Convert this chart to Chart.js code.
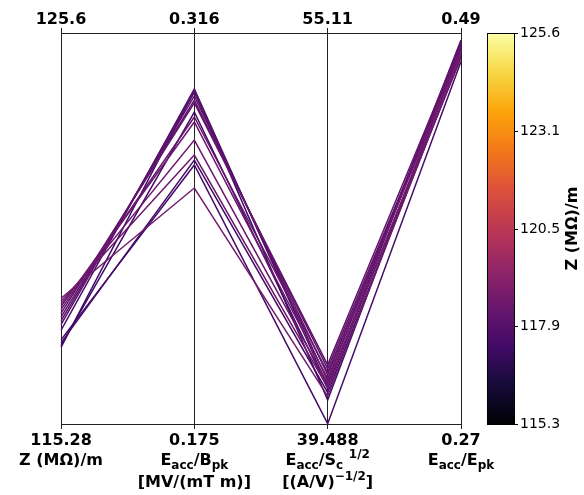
<!DOCTYPE html>
<html>
<head>
<meta charset="utf-8">
<script src="https://cdn.jsdelivr.net/npm/chart.js@4/dist/chart.umd.min.js"></script>
<style>
  html, body { margin: 0; padding: 0; background: #fff; }
  #wrap { width: 584px; height: 495px; }
</style>
</head>
<body>
<div id="wrap"><canvas id="myChart" width="584" height="495"></canvas></div>
<script>
// axis ranges (bottom / top of each vertical axis)
const axisMin = [115.28, 0.175, 39.488, 0.27];
const axisMax = [125.6, 0.316, 55.11, 0.49];
const axisMinLabels = ["115.28", "0.175", "39.488", "0.27"];
const axisMaxLabels = ["125.6", "0.316", "55.11", "0.49"];

// one entry per design
const zValues    = [118.60, 118.52, 118.45, 118.38, 118.30, 118.20, 118.10, 118.00, 117.90, 117.75, 117.50, 117.42, 117.35, 117.30];
const eaccBpk    = [0.2601, 0.2720, 0.2774, 0.2839, 0.2857, 0.2908, 0.2918, 0.2933, 0.2947, 0.2958, 0.2684, 0.2702, 0.2875, 0.2950];
const eaccSc     = [40.60, 40.95, 41.10, 41.30, 41.55, 41.85, 41.70, 41.45, 41.20, 41.00, 39.50, 40.75, 40.90, 40.45];
const eaccEpk    = [0.478, 0.480, 0.476, 0.482, 0.479, 0.484, 0.481, 0.483, 0.486, 0.485, 0.474, 0.477, 0.480, 0.482];

// colorbar
const cbMin = 115.3, cbMax = 125.6;
const cbTicks = ["125.6", "123.1", "120.5", "117.9", "115.3"];

// inferno colormap, 11 stops
const inferno = ["#000004", "#160b39", "#420a68", "#6a176e", "#932667", "#bc3754",
                 "#dd513a", "#f37819", "#fca50a", "#f6d746", "#fcffa4"];

function hexToRgb(h) {
  return [parseInt(h.substr(1,2),16), parseInt(h.substr(3,2),16), parseInt(h.substr(5,2),16)];
}
function infernoColor(t) {
  t = Math.max(0, Math.min(1, t));
  let p = t * 10, i = Math.min(9, Math.floor(p)), f = p - i;
  let a = hexToRgb(inferno[i]), b = hexToRgb(inferno[i+1]);
  let c = a.map((v, k) => Math.round(v + (b[k] - v) * f));
  return 'rgb(' + c.join(',') + ')';
}

const FONT = "'DejaVu Sans', sans-serif";

// x positions are the four axes; y is each value scaled into its own axis range
const datasets = [];
for (let i = 0; i < zValues.length; i++) {
  let row = [zValues[i], eaccBpk[i], eaccSc[i], eaccEpk[i]];
  datasets.push({
    data: row.map((v, k) => (v - axisMin[k]) / (axisMax[k] - axisMin[k])),
    borderColor: infernoColor((zValues[i] - cbMin) / (cbMax - cbMin)),
    borderWidth: 1.5,
    pointRadius: 0,
    tension: 0,
    fill: false
  });
}

// axis names, with sub/superscript parts
const axisNames = [
  [[{t: "Z (M\u03a9)/m"}]],
  [[{t: "E"}, {t: "acc", sub: true}, {t: "/B"}, {t: "pk", sub: true}], [{t: "[MV/(mT m)]"}]],
  [[{t: "E"}, {t: "acc", sub: true}, {t: "/S"}, {t: "c", sub: true}, {t: " "}, {t: "1/2", sup: true}],
   [{t: "[(A/V)"}, {t: "\u22121/2", sup: true}, {t: "]"}]],
  [[{t: "E"}, {t: "acc", sub: true}, {t: "/E"}, {t: "pk", sub: true}]]
];

function drawRich(ctx, segs, cx, y, size) {
  let small = Math.round(size * 0.72);
  let total = 0;
  segs.forEach(s => {
    ctx.font = "bold " + ((s.sub || s.sup) ? small : size) + "px " + FONT;
    s.w = ctx.measureText(s.t).width;
    total += s.w;
  });
  let x = cx - total / 2;
  ctx.textAlign = "left";
  ctx.textBaseline = "alphabetic";
  segs.forEach(s => {
    ctx.font = "bold " + ((s.sub || s.sup) ? small : size) + "px " + FONT;
    let dy = s.sub ? size * 0.28 : (s.sup ? -size * 0.42 : 0);
    ctx.fillText(s.t, x, y + dy);
    x += s.w;
  });
}

const labelsPlugin = {
  id: 'labelsPlugin',
  afterDraw(chart) {
    const ctx = chart.ctx;
    const xs = chart.scales.x;
    ctx.save();
    ctx.fillStyle = "#000";
    for (let i = 0; i < 4; i++) {
      let px = xs.getPixelForTick(i);
      ctx.font = "bold 16px " + FONT;
      ctx.textAlign = "center";
      ctx.textBaseline = "alphabetic";
      ctx.fillText(axisMinLabels[i], px, 445);
      axisNames[i].forEach((line, j) => {
        drawRich(ctx, line, px, 465 + j * 22, 16);
      });
    }

    // colorbar
    const top = chart.chartArea.top, bottom = chart.chartArea.bottom;
    const x0 = 487, w = 27;
    let grad = ctx.createLinearGradient(0, bottom, 0, top);
    for (let k = 0; k <= 40; k++) grad.addColorStop(k / 40, infernoColor(k / 40));
    ctx.fillStyle = grad;
    ctx.fillRect(x0, top, w, bottom - top);
    ctx.strokeStyle = "#000";
    ctx.lineWidth = 1;
    ctx.strokeRect(x0 + 0.5, top + 0.5, w, bottom - top);
    ctx.fillStyle = "#000";
    ctx.font = "14px " + FONT;
    ctx.textAlign = "left";
    ctx.textBaseline = "middle";
    cbTicks.forEach((t, k) => {
      let y = Math.round(top + (bottom - top) * k / (cbTicks.length - 1)) + 0.5;
      ctx.beginPath();
      ctx.moveTo(x0 + w, y);
      ctx.lineTo(x0 + w + 4, y);
      ctx.stroke();
      ctx.fillText(t, x0 + w + 6, y);
    });
    ctx.translate(573, (top + bottom) / 2);
    ctx.rotate(-Math.PI / 2);
    ctx.font = "bold 16px " + FONT;
    ctx.textAlign = "center";
    ctx.textBaseline = "middle";
    ctx.fillText("Z (M\u03a9)/m", 0, 0);
    ctx.restore();
  }
};

const config = {
  type: 'line',
  data: { labels: [0, 1, 2, 3], datasets: datasets },
  options: {
    responsive: false,
    animation: false,
    layout: { padding: { left: 61, right: 123, top: 0, bottom: 0 } },
    plugins: { legend: { display: false }, tooltip: { enabled: false } },
    scales: {
      x: {
        type: 'category',
        offset: false,
        grid: { color: '#222', lineWidth: 1, tickLength: 5, drawOnChartArea: true },
        border: { display: true, color: '#222' },
        ticks: { display: false },
        afterFit(s) { s.height = 71; }
      },
      x2: {
        type: 'category',
        position: 'top',
        labels: axisMaxLabels,
        offset: false,
        grid: { color: '#222', tickLength: 5, drawOnChartArea: false },
        border: { display: true, color: '#222' },
        ticks: { color: '#000', font: { family: FONT, size: 16, weight: 'bold' }, padding: -1, maxRotation: 0 },
        afterFit(s) { s.height = 33; }
      },
      y: { display: false, min: 0, max: 1 }
    }
  },
  plugins: [labelsPlugin]
};

const myChart = new Chart(document.getElementById('myChart'), config);
</script>
</body>
</html>
